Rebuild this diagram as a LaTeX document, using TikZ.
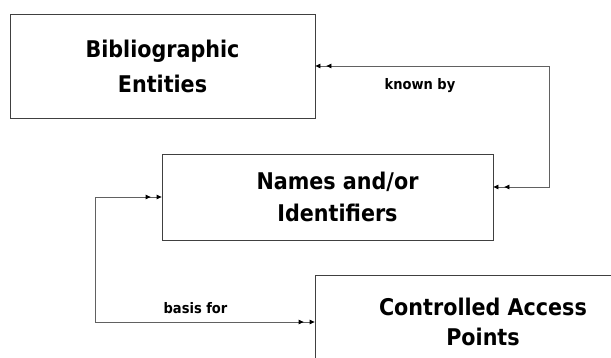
\documentclass[tikz,border=0pt]{standalone}
\usepackage{fontspec}
\setmainfont{DejaVu Sans Condensed}
\usetikzlibrary{arrows.meta}
\begin{document}
\begin{tikzpicture}[x=1pt,y=-1pt,
  box/.style={draw=black!75, line width=0.8pt, rectangle, inner sep=0pt, align=center},
  boxfont/.style={font=\bfseries\fontsize{23}{#1}\selectfont},
  lbl/.style={font=\bfseries\fontsize{14.5}{17}\selectfont, inner sep=0pt, anchor=base},
  link/.style={draw=black!62, line width=0.8pt, {Triangle[length=5pt,width=4.5pt,color=black]Triangle[length=5pt,width=4.5pt,sep=6pt,color=black]}-{Triangle[length=5pt,width=4.5pt,sep=6pt,color=black]Triangle[length=5pt,width=4.5pt,color=black]}}
]
\useasboundingbox (0,0) rectangle (611,358);
\clip (0,0) rectangle (611,358);
\node[box, boxfont=35, minimum width=305pt, minimum height=104pt] (b1) at (162.5,66) {Bibliographic\\Entities};
\node[box, boxfont=32, minimum width=331pt, minimum height=86pt] (b2) at (327.5,197) {\hspace*{20pt}Names and/or\\\hspace*{20pt}Identifiers};
\node[box, boxfont=30, minimum width=336pt, minimum height=94pt] (b3) at (483,322) {Controlled Access\\Points};
\coordinate (k1) at (549,0);
\coordinate (k2) at (95,0);
\draw[link] ([yshift=10pt]b2.east) -| (k1 |- b1.east) -- (b1.east);
\draw[link] (b2.west) -| (k2 |- b3.west) -- (b3.west);
\node[lbl] (l1) at (420,89.5) {known by};
\node[lbl] (l2) at (195.5,314) {basis for};
\end{tikzpicture}
\end{document}
